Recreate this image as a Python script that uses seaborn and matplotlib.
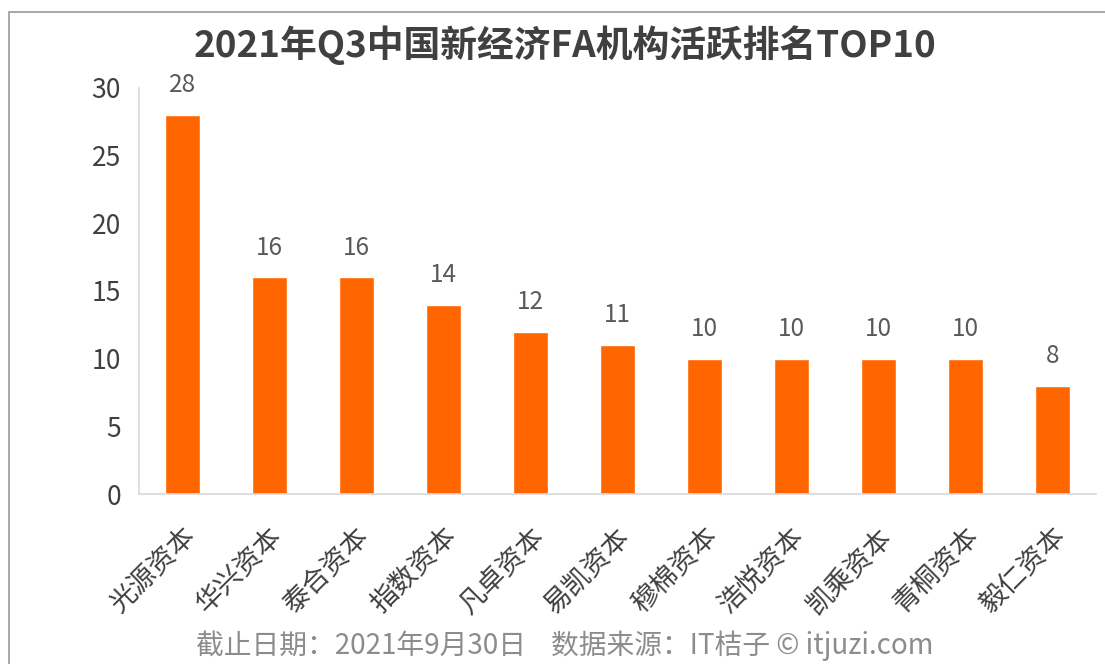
import matplotlib
matplotlib.use("Agg")
import matplotlib.pyplot as plt
import seaborn as sns
import pandas as pd
from matplotlib.patches import Rectangle

# 数据
institutions = ["光源资本", "华兴资本", "泰合资本", "指数资本", "凡卓资本", "易凯资本",
                "穆棉资本", "浩悦资本", "凯乘资本", "青桐资本", "毅仁资本"]
event_counts = [28, 16, 16, 14, 12, 11, 10, 10, 10, 10, 8]
y_ticks = [0, 5, 10, 15, 20, 25, 30]

title = "2021年Q3中国新经济FA机构活跃排名TOP10"
footer = "截止日期：2021年9月30日    数据来源：IT桔子 © itjuzi.com"

sns.set_theme(style="white")
plt.rcParams['font.family'] = ['Noto Sans CJK SC', 'DejaVu Sans']

df = pd.DataFrame({"机构": institutions, "数量": event_counts})

fig = plt.figure(figsize=(11.05, 6.64), dpi=100)
ax = fig.add_axes([0.1258, 0.256, 0.8661, 0.6115])

sns.barplot(data=df, x="机构", y="数量", color="#FF6600", saturation=1,
            width=0.4, ax=ax)

ax.set_ylim(0, 30)
ax.set_yticks(y_ticks)
ax.set_xlabel("")
ax.set_ylabel("")

for c in ax.containers:
    ax.bar_label(c, labels=[str(v) for v in event_counts], padding=12,
                 fontsize=17.5, color="#595959")

ax.tick_params(axis="y", length=0, pad=13, labelsize=19, labelcolor="#404040")
ax.tick_params(axis="x", length=0, pad=21, labelsize=19.5, labelcolor="#404040")
for lab in ax.get_xticklabels():
    lab.set_rotation(45)
    lab.set_ha("right")
    lab.set_va("top")
    lab.set_rotation_mode("anchor")

sns.despine(ax=ax, top=True, right=True)
for s in ["left", "bottom"]:
    ax.spines[s].set_color("#d9d9d9")
    ax.spines[s].set_linewidth(1.2)

fig.text(0.511, 0.932, title, ha="center", va="center", fontsize=26.5,
         fontweight="bold", color="#404040")
fig.text(0.511, 0.027, footer, ha="center", va="center", fontsize=20,
         color="#8c8c8c")

# 外框
fig.patches.append(Rectangle((9 / 1105, -0.1), 1.2, 1.1 - 12 / 664,
                             transform=fig.transFigure, fill=False,
                             edgecolor="#999999", linewidth=1.2))

fig.savefig("out.png", dpi=100)
